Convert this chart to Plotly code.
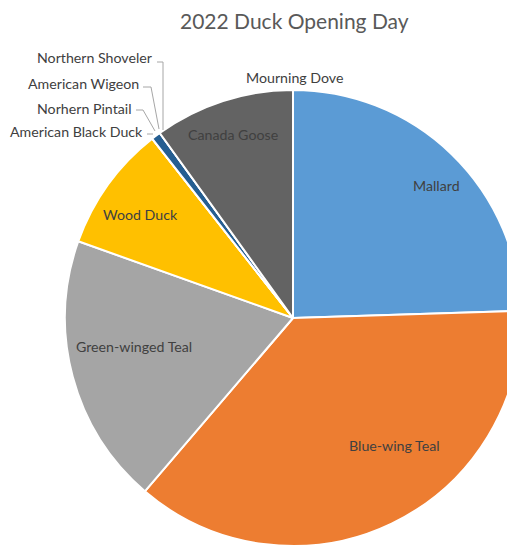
import plotly.graph_objects as go

categories = ["Mallard", "Blue-wing Teal", "Green-winged Teal", "Wood Duck",
              "American Black Duck", "Norhern Pintail", "American Wigeon",
              "Northern Shoveler", "Canada Goose", "Mourning Dove"]
counts = [74, 111, 58, 27, 0, 0, 2, 0, 30, 0]
colors = ["#5B9BD5", "#ED7D31", "#A5A5A5", "#FFC000", "#4472C4",
          "#70AD47", "#255E91", "#9E480E", "#636363", "#997300"]
title = "2022 Duck Opening Day"

W, H = 515, 546
OFF = 8  # default body margin of the page
FONT = "Lato, Open Sans, sans-serif"
TXT = "#404040"


def px(x, y):
    """window pixel -> paper coords"""
    return (x - OFF) / W, 1 - (y - OFF) / H


# pie geometry (window pixels)
CX, CY, R = 293, 318, 228
fx0, fy0 = px(CX - R, CY + R)
fx1, fy1 = px(CX + R, CY - R)

fig = go.Figure(go.Pie(
    labels=categories, values=counts, sort=False, direction="clockwise",
    rotation=0, textinfo="none",
    marker=dict(colors=colors, line=dict(color="white", width=2)),
    domain=dict(x=[max(fx0, 0), min(fx1, 1)], y=[max(fy0, 0), min(fy1, 1)]),
    hoverinfo="label+value+percent", showlegend=False,
))

# label placement (window pixels): (x, y, anchor, leader polyline)
label_pos = {
    "Mallard": (436, 186, "center", []),
    "Blue-wing Teal": (394, 445, "center", []),
    "Green-winged Teal": (134, 346, "center", []),
    "Wood Duck": (140, 214, "center", []),
    "Canada Goose": (233, 134, "center", []),
    "Mourning Dove": (294, 77, "center", []),
    "Northern Shoveler": (155, 57, "right", [(157, 62), (163, 62), (163, 130)]),
    "American Wigeon": (141, 84, "right", [(143, 87), (151, 87), (159, 129)]),
    "Norhern Pintail": (134, 108, "right", [(136, 110), (143, 110), (155, 131)]),
    "American Black Duck": (145, 132, "right", [(147, 134), (153, 134)]),
}

anns, shapes = [], []
for name in categories:
    x, y, anchor, pts = label_pos[name]
    ax, ay = px(x, y)
    anns.append(dict(x=ax, y=ay, xref="paper", yref="paper", text=name,
                     showarrow=False, xanchor=anchor, yanchor="middle",
                     font=dict(family=FONT, size=14.2, color=TXT)))
    for (x0, y0), (x1, y1) in zip(pts[:-1], pts[1:]):
        a0, b0 = px(x0, y0)
        a1, b1 = px(x1, y1)
        shapes.append(dict(type="line", xref="paper", yref="paper",
                           x0=a0, y0=b0, x1=a1, y1=b1,
                           line=dict(color="#A6A6A6", width=1)))

tx, ty = px(294, 20)
anns.append(dict(x=tx, y=ty, xref="paper", yref="paper", text=title,
                 showarrow=False, xanchor="center", yanchor="middle",
                 font=dict(family=FONT, size=21, color="#595959")))

fig.update_layout(
    width=W, height=H, margin=dict(l=0, r=0, t=0, b=0),
    paper_bgcolor="white", plot_bgcolor="white",
    annotations=anns, shapes=shapes,
)

fig.write_html("out.html")
